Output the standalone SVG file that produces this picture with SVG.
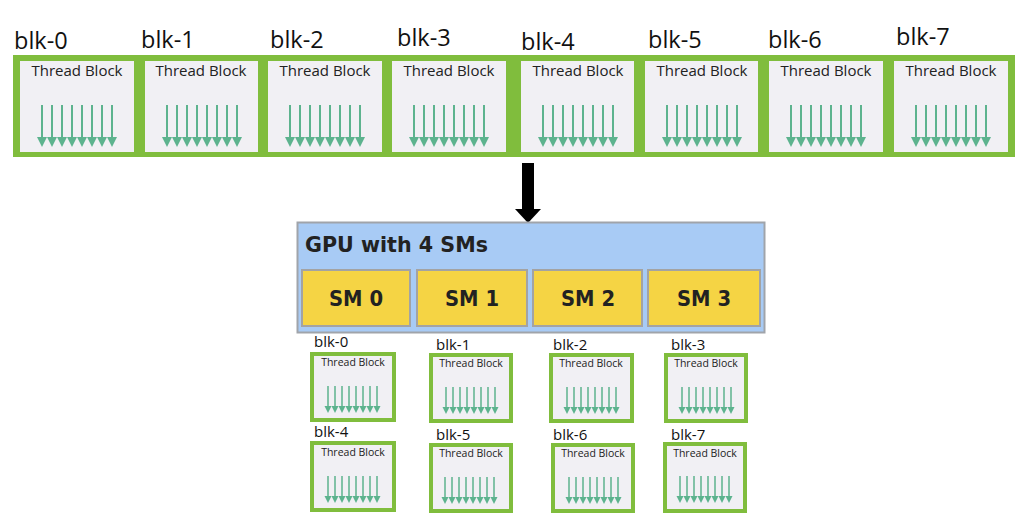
<svg xmlns="http://www.w3.org/2000/svg" xmlns:xlink="http://www.w3.org/1999/xlink" width="1032" height="530" viewBox="0 0 1032 530">
<style>
.lbl{font-family:"Open Sans","DejaVu Sans",sans-serif;fill:#111}
.big{font-size:23.5px}
.sml{font-size:15px}
.tb{font-family:"Open Sans","DejaVu Sans",sans-serif;fill:#222;text-anchor:middle}
.tbig{font-size:15px}
.tsml{font-size:10.5px}
.box{fill:#f1f0f4}
.sbox{fill:#f1f0f4;stroke:#80bd3d;stroke-width:4}
.ash{stroke:#5db38e;stroke-width:2}
.ahd{fill:#5db38e}
.sm{fill:#f5d444;stroke:#a3a3a3;stroke-width:2}
.smt{font-family:"DejaVu Sans","Verdana",sans-serif;font-weight:bold;font-size:21px;fill:#222;text-anchor:middle}
</style>
<defs>
<g id="bigArrows">
<g class="ash"><line x1="22" y1="105" x2="22" y2="139"/><line x1="32" y1="105" x2="32" y2="139"/><line x1="42" y1="105" x2="42" y2="139"/><line x1="52" y1="105" x2="52" y2="139"/><line x1="62" y1="105" x2="62" y2="139"/><line x1="72" y1="105" x2="72" y2="139"/><line x1="82" y1="105" x2="82" y2="139"/><line x1="92" y1="105" x2="92" y2="139"/></g>
<g class="ahd"><polygon points="17,137 27,137 22,147"/><polygon points="27,137 37,137 32,147"/><polygon points="37,137 47,137 42,147"/><polygon points="47,137 57,137 52,147"/><polygon points="57,137 67,137 62,147"/><polygon points="67,137 77,137 72,147"/><polygon points="77,137 87,137 82,147"/><polygon points="87,137 97,137 92,147"/></g>
</g>
<g id="smlArrows">
<g class="ash" style="stroke-width:1.5"><line x1="18" y1="34" x2="18" y2="55"/><line x1="25" y1="34" x2="25" y2="55"/><line x1="32" y1="34" x2="32" y2="55"/><line x1="39" y1="34" x2="39" y2="55"/><line x1="46" y1="34" x2="46" y2="55"/><line x1="53" y1="34" x2="53" y2="55"/><line x1="60" y1="34" x2="60" y2="55"/><line x1="67" y1="34" x2="67" y2="55"/></g>
<g class="ahd"><polygon points="14.5,54 21.5,54 18,61"/><polygon points="21.5,54 28.5,54 25,61"/><polygon points="28.5,54 35.5,54 32,61"/><polygon points="35.5,54 42.5,54 39,61"/><polygon points="42.5,54 49.5,54 46,61"/><polygon points="49.5,54 56.5,54 53,61"/><polygon points="56.5,54 63.5,54 60,61"/><polygon points="63.5,54 70.5,54 67,61"/></g>
</g>
</defs>
<rect width="1032" height="530" fill="#ffffff"/>

<g id="grid">
<rect x="13" y="55" width="1002" height="102" fill="#80bd3d"/>
<g id="top-blk-0"><text class="lbl big" x="14" y="49">blk-0</text><rect class="box" x="20" y="61" width="114" height="91"/><text class="tb tbig" x="77" y="76">Thread Block</text><use xlink:href="#bigArrows" x="20" y="0"/></g>
<g id="top-blk-1"><text class="lbl big" x="141" y="48">blk-1</text><rect class="box" x="145" y="61" width="113" height="91"/><text class="tb tbig" x="201" y="76">Thread Block</text><use xlink:href="#bigArrows" x="145" y="0"/></g>
<g id="top-blk-2"><text class="lbl big" x="270" y="48">blk-2</text><rect class="box" x="268" y="61" width="114" height="91"/><text class="tb tbig" x="325" y="76">Thread Block</text><use xlink:href="#bigArrows" x="268" y="0"/></g>
<g id="top-blk-3"><text class="lbl big" x="397" y="46">blk-3</text><rect class="box" x="392" y="61" width="114" height="91"/><text class="tb tbig" x="449" y="76">Thread Block</text><use xlink:href="#bigArrows" x="392" y="0"/></g>
<g id="top-blk-4"><text class="lbl big" x="521" y="50">blk-4</text><rect class="box" x="521" y="61" width="113" height="91"/><text class="tb tbig" x="578" y="76">Thread Block</text><use xlink:href="#bigArrows" x="521" y="0"/></g>
<g id="top-blk-5"><text class="lbl big" x="648" y="48">blk-5</text><rect class="box" x="645" y="61" width="113" height="91"/><text class="tb tbig" x="702" y="76">Thread Block</text><use xlink:href="#bigArrows" x="645" y="0"/></g>
<g id="top-blk-6"><text class="lbl big" x="768" y="48">blk-6</text><rect class="box" x="769" y="61" width="114" height="91"/><text class="tb tbig" x="826" y="76">Thread Block</text><use xlink:href="#bigArrows" x="769" y="0"/></g>
<g id="top-blk-7"><text class="lbl big" x="896" y="45">blk-7</text><rect class="box" x="894" y="61" width="114" height="91"/><text class="tb tbig" x="951" y="76">Thread Block</text><use xlink:href="#bigArrows" x="894" y="0"/></g>
</g>

<g id="connectors">
<rect x="522" y="163" width="12" height="50" fill="#000"/>
<polygon points="515,209 541,209 528,223" fill="#000"/>
</g>

<g id="gpu">
<rect x="297.5" y="222.5" width="467" height="110" fill="#a8cbf5" stroke="#a0a4aa" stroke-width="2"/>
<text x="305" y="252" font-family="DejaVu Sans, Verdana, sans-serif" font-weight="bold" font-size="21" fill="#222" textLength="183" lengthAdjust="spacingAndGlyphs">GPU with 4 SMs</text>
<g id="sm0"><rect class="sm" x="302" y="270" width="108" height="56"/><text class="smt" x="356" y="306" textLength="54" lengthAdjust="spacingAndGlyphs">SM 0</text></g>
<g id="sm1"><rect class="sm" x="417" y="270" width="110" height="56"/><text class="smt" x="472" y="306" textLength="54" lengthAdjust="spacingAndGlyphs">SM 1</text></g>
<g id="sm2"><rect class="sm" x="533" y="270" width="109" height="56"/><text class="smt" x="588" y="306" textLength="54" lengthAdjust="spacingAndGlyphs">SM 2</text></g>
<g id="sm3"><rect class="sm" x="648" y="270" width="112" height="56"/><text class="smt" x="704" y="306" textLength="54" lengthAdjust="spacingAndGlyphs">SM 3</text></g>
</g>

<g id="sm-blk-0"><text class="lbl sml" x="314" y="347">blk-0</text><rect class="sbox" x="312" y="354" width="82" height="66"/><text class="tb tsml" x="353" y="366">Thread Block</text><use xlink:href="#smlArrows" x="310" y="352"/></g>
<g id="sm-blk-1"><text class="lbl sml" x="436" y="350">blk-1</text><rect class="sbox" x="431" y="355" width="80" height="66"/><text class="tb tsml" x="471" y="367">Thread Block</text><use xlink:href="#smlArrows" x="428" y="353"/></g>
<g id="sm-blk-2"><text class="lbl sml" x="553" y="350">blk-2</text><rect class="sbox" x="551" y="355" width="81" height="66"/><text class="tb tsml" x="591" y="367">Thread Block</text><use xlink:href="#smlArrows" x="549" y="353"/></g>
<g id="sm-blk-3"><text class="lbl sml" x="671" y="350">blk-3</text><rect class="sbox" x="666" y="355" width="80" height="66"/><text class="tb tsml" x="706" y="367">Thread Block</text><use xlink:href="#smlArrows" x="664" y="353"/></g>
<g id="sm-blk-4"><text class="lbl sml" x="314" y="437">blk-4</text><rect class="sbox" x="312" y="443" width="82" height="67"/><text class="tb tsml" x="353" y="456">Thread Block</text><use xlink:href="#smlArrows" x="310" y="442"/></g>
<g id="sm-blk-5"><text class="lbl sml" x="436" y="440">blk-5</text><rect class="sbox" x="431" y="445" width="80" height="66"/><text class="tb tsml" x="471" y="457">Thread Block</text><use xlink:href="#smlArrows" x="427" y="443"/></g>
<g id="sm-blk-6"><text class="lbl sml" x="553" y="440">blk-6</text><rect class="sbox" x="553" y="445" width="80" height="66"/><text class="tb tsml" x="593" y="457">Thread Block</text><use xlink:href="#smlArrows" x="551" y="443"/></g>
<g id="sm-blk-7"><text class="lbl sml" x="671" y="440">blk-7</text><rect class="sbox" x="665" y="444" width="80" height="67"/><text class="tb tsml" x="705" y="457">Thread Block</text><use xlink:href="#smlArrows" x="662" y="442"/></g>
</svg>
